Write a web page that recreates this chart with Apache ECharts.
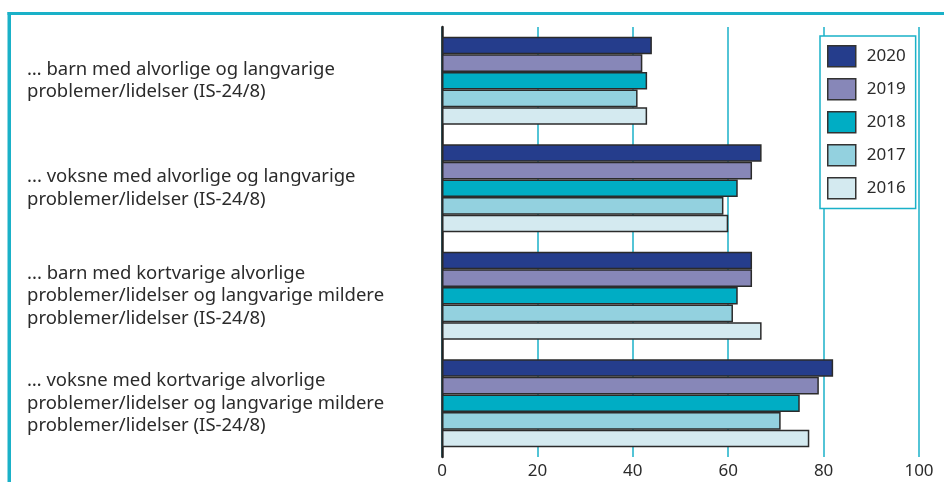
<!DOCTYPE html>
<html>
<head>
<meta charset="utf-8">
<script src="https://cdn.jsdelivr.net/npm/echarts@6/dist/echarts.min.js"></script>
<style>
  html, body { margin: 0; padding: 0; background: #fff; }
  #chart { width: 944px; height: 482px; }
</style>
</head>
<body>
<div id="chart"></div>
<script>
const categories = [
  '… barn med alvorlige og langvarige\nproblemer/lidelser (IS-24/8)',
  '... voksne med alvorlige og langvarige\nproblemer/lidelser (IS-24/8)',
  '... barn med kortvarige alvorlige\nproblemer/lidelser og langvarige mildere\nproblemer/lidelser (IS-24/8)',
  '… voksne med kortvarige alvorlige\nproblemer/lidelser og langvarige mildere\nproblemer/lidelser (IS-24/8)'
];

const years = ['2020', '2019', '2018', '2017', '2016'];
const colors = ['#253d8c', '#8787b8', '#00adc4', '#93d1df', '#d4eaf0'];

const v2020 = [44, 67, 65, 82];
const v2019 = [42, 65, 65, 79];
const v2018 = [43, 62, 62, 75];
const v2017 = [41, 59, 61, 71];
const v2016 = [43, 60, 67, 77];
const values = [v2020, v2019, v2018, v2017, v2016];

const xTicks = [0, 20, 40, 60, 80, 100];

const teal = '#1ab1c8';
const textColor = '#2b2b2b';
const font = 'Noto Sans';

const chart = echarts.init(document.getElementById('chart'));

chart.setOption({
  animation: false,
  textStyle: { fontFamily: font },
  grid: { left: 442, right: 25, top: 27, bottom: 25 },
  legend: {
    orient: 'vertical',
    left: 820,
    top: 36,
    width: 105,
    padding: [9, 10, 9, 7],
    itemWidth: 28,
    itemHeight: 21,
    itemGap: 10.5,
    backgroundColor: '#fff',
    borderColor: teal,
    borderWidth: 1.5,
    icon: 'rect',
    data: years,
    itemStyle: { borderColor: '#333', borderWidth: 1.5 },
    textStyle: { fontFamily: font, fontSize: 17, color: textColor, padding: [0, 0, 0, 6] }
  },
  xAxis: {
    type: 'value',
    min: xTicks[0],
    max: xTicks[xTicks.length - 1],
    interval: 20,
    axisLine: { show: false },
    axisTick: { show: false },
    splitLine: { show: true, lineStyle: { color: teal, width: 1.5 } },
    axisLabel: { fontFamily: font, fontSize: 17, color: textColor, margin: 6 }
  },
  yAxis: {
    type: 'category',
    inverse: true,
    data: categories,
    axisLine: { show: true, lineStyle: { color: '#222', width: 2.5 } },
    axisTick: { show: false },
    axisLabel: {
      align: 'left',
      margin: 415,
      fontFamily: font,
      fontSize: 18.5,
      lineHeight: 22.5,
      padding: [11, 0, 0, 0],
      color: textColor
    }
  },
  series: years.map((y, i) => ({
    name: y,
    type: 'bar',
    data: values[i],
    barWidth: 17.6,
    barGap: '0%',
    itemStyle: { color: colors[i], borderColor: '#2b2b2b', borderWidth: 1.5 }
  })),
  graphic: [
    {
      type: 'line',
      shape: { x1: 7.5, y1: 13.5, x2: 944, y2: 13.5 },
      style: { stroke: teal, lineWidth: 3 }
    },
    {
      type: 'line',
      shape: { x1: 9.25, y1: 12, x2: 9.25, y2: 482 },
      style: { stroke: teal, lineWidth: 3.5 }
    }
  ]
});
</script>
</body>
</html>
